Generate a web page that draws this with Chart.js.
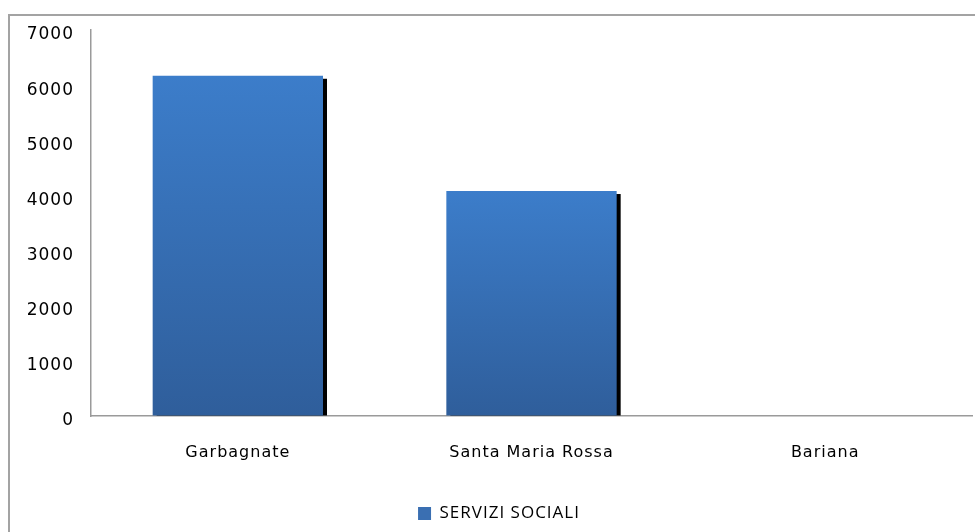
<!DOCTYPE html>
<html>
<head>
<meta charset="utf-8">
<script src="https://cdn.jsdelivr.net/npm/chart.js@4.4.0/dist/chart.umd.min.js"></script>
<style>
  html, body { margin: 0; padding: 0; background: #fff; overflow: hidden; }
  #wrap { position: relative; width: 975px; height: 532px; }
  #frame { position: absolute; left: 8px; top: 14px; width: 1000px; height: 600px;
           border: 2px solid #a3a3a3; box-sizing: border-box; }
  #myChart { position: absolute; left: 0; top: 0; }
</style>
</head>
<body>
<div id="wrap">
  <div id="frame"></div>
  <canvas id="myChart" width="975" height="532"></canvas>
</div>
<script>
const categorie = ['Garbagnate', 'Santa Maria Rossa', 'Bariana'];
const serviziSociali = [6170, 4080, 0];
const serieNome = 'SERVIZI SOCIALI';
const yMax = 7000;
const yStep = 1000;

// spaziatura lettere come nel testo di Excel
const spaziatura = {
  id: 'spaziatura',
  beforeUpdate(chart) { chart.ctx.letterSpacing = '1px'; },
  beforeDraw(chart) { chart.ctx.letterSpacing = '1px'; },
  afterLayout(chart) {
    // la legenda nel grafico originale e' un po' spostata a destra
    if (chart.legend) { chart.legend.left += 13; chart.legend.right += 13; }
  }
};

// ombra nera dietro le barre
const ombra = {
  id: 'ombra',
  beforeDatasetsDraw(chart) {
    const ctx = chart.ctx;
    const meta = chart.getDatasetMeta(0);
    ctx.save();
    ctx.fillStyle = '#000';
    meta.data.forEach(bar => {
      const h = bar.base - bar.y - 3;
      if (h <= 0) return;
      ctx.fillRect(bar.x - bar.width / 2 + 4, bar.y + 3, bar.width, h);
    });
    ctx.restore();
  }
};

function sfumatura(context) {
  const chart = context.chart;
  const y = chart.scales.y;
  if (!y || context.dataIndex === undefined) return '#3a78c4';
  const v = context.dataset.data[context.dataIndex];
  const top = y.getPixelForValue(v);
  const bottom = y.getPixelForValue(0);
  if (!(bottom > top)) return '#3a78c4';
  const g = chart.ctx.createLinearGradient(0, top, 0, bottom);
  g.addColorStop(0, '#3c7dca');
  g.addColorStop(1, '#2f5e9b');
  return g;
}

const ctx = document.getElementById('myChart');
new Chart(ctx, {
  type: 'bar',
  data: {
    labels: categorie,
    datasets: [{
      label: serieNome,
      data: serviziSociali,
      backgroundColor: sfumatura,
      borderWidth: 0,
      categoryPercentage: 1,
      barPercentage: 0.58
    }]
  },
  options: {
    responsive: false,
    animation: false,
    layout: { padding: { top: 30, right: 3, bottom: 0, left: 0 } },
    plugins: {
      tooltip: { enabled: false },
      legend: {
        position: 'bottom',
        labels: {
          boxWidth: 13,
          boxHeight: 13,
          padding: 10,
          color: '#000',
          font: { family: 'Open Sans', size: 17 },
          generateLabels: () => [{
            text: serieNome,
            fillStyle: '#3a6fb2',
            strokeStyle: '#3a6fb2',
            lineWidth: 0,
            datasetIndex: 0
          }]
        }
      }
    },
    scales: {
      x: {
        grid: { color: 'rgba(0,0,0,0)', drawTicks: false },
        border: { display: true, color: '#9a9a9a', width: 1.5 },
        ticks: {
          color: '#000',
          padding: 27,
          font: { family: 'DejaVu Sans', size: 16 }
        },
        afterFit: s => { s.height = 79; }
      },
      y: {
        min: 0,
        max: yMax,
        grid: { color: 'rgba(0,0,0,0)', drawTicks: false },
        border: { display: true, color: '#9a9a9a', width: 1.5 },
        ticks: {
          stepSize: yStep,
          color: '#000',
          padding: 17,
          labelOffset: 5,
          font: { family: 'DejaVu Sans', size: 17 },
          callback: v => String(v)
        },
        afterFit: s => { s.width = 91; }
      }
    }
  },
  plugins: [spaziatura, ombra]
});
</script>
</body>
</html>
